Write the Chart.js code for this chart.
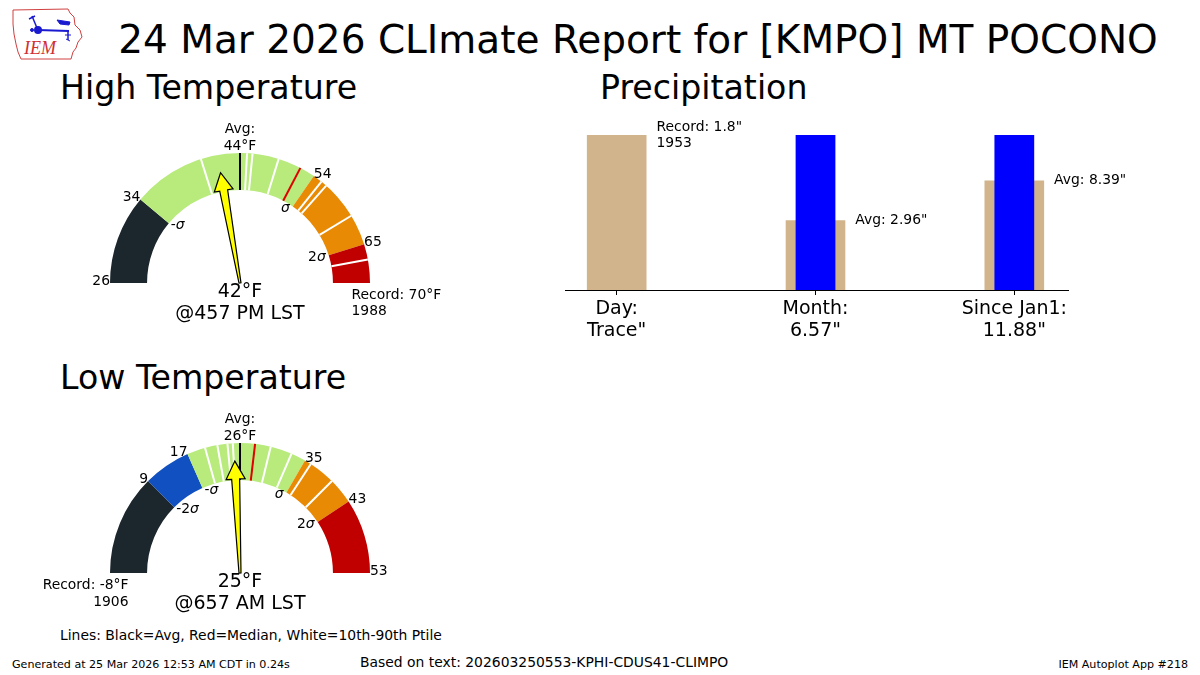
<!DOCTYPE html>
<html>
<head>
<meta charset="utf-8">
<script src="https://cdn.jsdelivr.net/npm/chart.js@4.4.1/dist/chart.umd.min.js"></script>
<style>
  body { margin: 0; background: #fff; font-family: "DejaVu Sans", sans-serif; }
  #page { position: relative; width: 1200px; height: 675px; overflow: hidden; background: #fff; }
  .t { position: absolute; white-space: nowrap; color: #000; line-height: 1; transform: translateY(-50%); }
  canvas { position: absolute; }
</style>
</head>
<body>
<div id="page">
  <svg style="position:absolute;left:8px;top:4px" width="78" height="58" viewBox="0 0 78 58">
    <path d="M5,6 L60,5 L62,9 L66,13 L67,21 L72,26 L74,33 L70,38 L68,44 L65,48 L63,55 L13,55 L10,48 L8,40 L6,30 L5,20 Z" fill="none" stroke="#d04040" stroke-width="1"/>
    <g stroke="#1a1ad0" stroke-width="2" fill="#1a1ad0">
      <line x1="30" y1="26" x2="61" y2="27"/>
      <circle cx="30" cy="26" r="3"/>
      <line x1="24" y1="12" x2="29" y2="24" stroke-width="1.5"/>
      <line x1="21" y1="15" x2="27" y2="12" stroke-width="1.5"/>
      <path d="M49,16 L62,18 L61,21 L52,20 Z" stroke-width="1"/>
      <line x1="60" y1="27" x2="60" y2="36" stroke-width="1.5"/>
      <line x1="57" y1="31" x2="63" y2="31" stroke-width="1"/>
      <line x1="58" y1="35" x2="62" y2="37" stroke-width="1"/>
      <circle cx="24" cy="26" r="1.5" stroke-width="1"/>
    </g>
    <text x="16" y="50" fill="#d03030" font-family="Liberation Serif" font-style="italic" font-size="18">IEM</text>
  </svg>

  <div class="t" style="left:638px;top:39px;font-size:39px;transform:translate(-50%,-50%)">24 Mar 2026 CLImate Report for [KMPO] MT POCONO</div>
  <div class="t" style="left:60px;top:88px;font-size:33.2px">High Temperature</div>
  <div class="t" style="left:600px;top:88px;font-size:33.2px">Precipitation</div>
  <div class="t" style="left:60px;top:378px;font-size:33.2px">Low Temperature</div>
  <div class="t" style="left:60px;top:636px;font-size:13.9px">Lines: Black=Avg, Red=Median, White=10th-90th Ptile</div>
  <div class="t" style="left:12px;top:665px;font-size:11.1px">Generated at 25 Mar 2026 12:53 AM CDT in 0.24s</div>
  <div class="t" style="left:360px;top:663px;font-size:13.9px">Based on text: 202603250553-KPHI-CDUS41-CLIMPO</div>
  <div class="t" style="right:12px;top:665px;font-size:11.1px">IEM Autoplot App #218</div>

  <canvas id="highGauge" width="440" height="240" style="left:20px;top:110px"></canvas>
  <canvas id="lowGauge" width="440" height="240" style="left:20px;top:400px"></canvas>
  <canvas id="precip" width="600" height="250" style="left:540px;top:110px"></canvas>
</div>

<script>
// colores das faixas
const DARK = '#1c262d', BLUE = '#1050c0', GREEN = '#b8ea7c', ORANGE = '#e88a04', RED = '#c00000';

// temperatura maxima
const highEdges = [26, 34, 54, 65, 70];
const highColors = [DARK, GREEN, ORANGE, RED];
const highSigma = ['', '-σ', 'σ', '2σ', ''];
const highAvg = 44;
const highMedian = 52;
const highPtiles = [40.5, 44.9, 45.6, 49, 55.2, 56, 61, 67];
const highObs = 42;
const highTime = '@457 PM LST';
const highRecord = 70, highRecordYear = 1988;

// temperatura minima
const lowEdges = [-8, 9, 17, 35, 43, 53];
const lowColors = [DARK, BLUE, GREEN, ORANGE, RED];
const lowSigma = ['', '-2σ', '-σ', 'σ', '2σ', ''];
const lowAvg = 26;
const lowMedian = 28;
const lowPtiles = [20.1, 22.2, 23.9, 24.8, 30.1, 33, 35.9, 39.5];
const lowObs = 25;
const lowTime = '@657 AM LST';
const lowRecord = -8, lowRecordYear = 1906;

// precipitacao
const precipLabels = ['Day:', 'Month:', 'Since Jan1:'];
const precipObsText = ['Trace"', '6.57"', '11.88"'];
const precipObs = [0.0001, 6.57, 11.88];
const precipRef = [1.8, 2.96, 8.39];
const precipRefText = [['Record: 1.8"', '1953'], ['Avg: 2.96"'], ['Avg: 8.39"']];

const FONT = '"DejaVu Sans", sans-serif';
const SMALL = 13.9;

function sigmaText(ctx, s, x, y, align) {
  const parts = s.split(/(σ)/).filter(Boolean);
  const fonts = parts.map(p => p === 'σ' ? 'italic ' + SMALL + 'px ' + FONT : SMALL + 'px ' + FONT);
  let w = 0;
  const ws = parts.map((p, i) => { ctx.font = fonts[i]; const m = ctx.measureText(p).width; w += m; return m; });
  let sx = align === 'right' ? x - w : x;
  ctx.textAlign = 'left';
  ctx.textBaseline = 'middle';
  parts.forEach((p, i) => { ctx.font = fonts[i]; ctx.fillText(p, sx, y); sx += ws[i]; });
}

function makeGauge(id, edges, colors, sigma, avg, median, ptiles, obs, time, record, recordYear) {
  // cortar as faixas na media: metade esquerda min..media, direita media..max
  const lo0 = edges[0], hi0 = edges[edges.length - 1];
  const cuts = edges.concat([avg]).sort((a, b) => a - b);
  const pieces = [];
  for (let i = 0; i < cuts.length - 1; i++) {
    const lo = cuts[i], hi = cuts[i + 1];
    if (hi <= lo) continue;
    let k = 0;
    while (k < edges.length - 2 && lo >= edges[k + 1]) k++;
    const half = hi <= avg ? avg - lo0 : hi0 - avg;
    pieces.push({ lo, hi, color: colors[k], w: (hi - lo) / half });
  }

  const overlay = {
    id: 'gauge_' + id,
    afterDatasetsDraw(chart) {
      const ctx = chart.ctx;
      const arcs = chart.getDatasetMeta(0).data;
      const cx = arcs[0].x, cy = arcs[0].y;
      const r0 = arcs[0].innerRadius, r1 = arcs[0].outerRadius;
      const angleOf = t => {
        for (let i = 0; i < pieces.length; i++) {
          const p = pieces[i];
          if (t >= p.lo && t <= p.hi) {
            return arcs[i].startAngle + (t - p.lo) / (p.hi - p.lo) * (arcs[i].endAngle - arcs[i].startAngle);
          }
        }
        return t < lo0 ? arcs[0].startAngle : arcs[arcs.length - 1].endAngle;
      };
      const radial = (t, color) => {
        const a = angleOf(t);
        ctx.beginPath();
        ctx.moveTo(cx + r0 * Math.cos(a), cy + r0 * Math.sin(a));
        ctx.lineTo(cx + r1 * Math.cos(a), cy + r1 * Math.sin(a));
        ctx.strokeStyle = color;
        ctx.lineWidth = 2;
        ctx.stroke();
      };
      ctx.save();
      ptiles.forEach(t => radial(t, '#ffffff'));
      radial(median, '#e00000');
      radial(avg, '#000000');

      // rotulos das bordas
      ctx.fillStyle = '#000';
      edges.forEach((t, i) => {
        const a = angleOf(t);
        const c = Math.cos(a), s = Math.sin(a);
        if (t !== record) {
          ctx.font = SMALL + 'px ' + FONT;
          ctx.textAlign = c < 0 ? 'right' : 'left';
          ctx.textBaseline = 'alphabetic';
          ctx.fillText(String(t), cx + r1 * c, cy + r1 * s + 1.5);
        }
        if (sigma[i]) {
          const px = cx + r0 * c, py = cy + r0 * s;
          if (c < 0) sigmaText(ctx, sigma[i], px + 2, py + 2, 'left');
          else sigmaText(ctx, sigma[i], px - 3, py + 2, 'right');
        }
      });

      // recorde
      ctx.font = SMALL + 'px ' + FONT;
      ctx.textBaseline = 'middle';
      const rm = (r0 + r1) / 2;
      if (record === hi0) {
        ctx.textAlign = 'left';
        ctx.fillText('Record: ' + record + '°F', cx + rm, cy + 12);
        ctx.fillText(String(recordYear), cx + rm, cy + 28);
      } else {
        ctx.textAlign = 'right';
        ctx.fillText('Record: ' + record + '°F', cx - rm, cy + 12);
        ctx.fillText(String(recordYear), cx - rm, cy + 29);
      }

      // media no topo
      ctx.textAlign = 'center';
      ctx.fillText('Avg:', cx, cy - r1 - 24);
      ctx.fillText(avg + '°F', cx, cy - r1 - 7);

      // ponteiro
      const a = angleOf(obs);
      const L = 112, hl = 18, sw = 4, hw = 9.5;
      const ux = Math.cos(a), uy = Math.sin(a), vx = -uy, vy = ux;
      const P = (d, w) => [cx + ux * d + vx * w, cy + uy * d + vy * w];
      const pts = [P(0, -1), P(L - hl, -sw), P(L - hl, -hw), P(L, 0), P(L - hl, hw), P(L - hl, sw), P(0, 1)];
      ctx.beginPath();
      pts.forEach((p, i) => i ? ctx.lineTo(p[0], p[1]) : ctx.moveTo(p[0], p[1]));
      ctx.closePath();
      ctx.fillStyle = '#ffff00';
      ctx.fill();
      ctx.strokeStyle = '#000';
      ctx.lineWidth = 1.2;
      ctx.lineJoin = 'miter';
      ctx.stroke();

      // valor observado
      ctx.fillStyle = '#000';
      ctx.font = '19px ' + FONT;
      ctx.textAlign = 'center';
      ctx.textBaseline = 'middle';
      ctx.fillText(obs + '°F', cx, cy + 9);
      ctx.fillText(time, cx, cy + 31);
      ctx.restore();
    }
  };

  return new Chart(document.getElementById(id), {
    type: 'doughnut',
    data: {
      labels: pieces.map(p => p.lo + '-' + p.hi),
      datasets: [{
        data: pieces.map(p => p.w),
        backgroundColor: pieces.map(p => p.color),
        borderWidth: 0
      }]
    },
    options: {
      responsive: false,
      animation: false,
      events: [],
      rotation: -90,
      circumference: 180,
      radius: 130,
      cutout: '71.5%',
      layout: { padding: { bottom: 24 } },
      plugins: { legend: { display: false }, tooltip: { enabled: false } }
    },
    plugins: [overlay]
  });
}

makeGauge('highGauge', highEdges, highColors, highSigma, highAvg, highMedian, highPtiles, highObs, highTime, highRecord, highRecordYear);
makeGauge('lowGauge', lowEdges, lowColors, lowSigma, lowAvg, lowMedian, lowPtiles, lowObs, lowTime, lowRecord, lowRecordYear);

// barras normalizadas pelo maior valor de cada categoria
const precipMax = precipObs.map((v, i) => Math.max(v, precipRef[i]));

const precipNotes = {
  id: 'precipNotes',
  afterDatasetsDraw(chart) {
    const ctx = chart.ctx, xs = chart.scales.x, ys = chart.scales.y;
    ctx.save();
    ctx.fillStyle = '#000';
    ctx.font = SMALL + 'px ' + FONT;
    ctx.textAlign = 'left';
    ctx.textBaseline = 'middle';
    precipRefText.forEach((lines, i) => {
      const x = xs.getPixelForValue(i + 0.2);
      const y = ys.getPixelForValue(precipRef[i] / precipMax[i]);
      lines.forEach((s, j) => ctx.fillText(s, x, y - (lines.length - 1) * 8 + j * 16));
    });
    ctx.restore();
  }
};

new Chart(document.getElementById('precip'), {
  type: 'bar',
  data: {
    datasets: [
      {
        data: precipObs.map((v, i) => ({ x: i, y: v / precipMax[i] })),
        backgroundColor: '#0000ff',
        barPercentage: 0.2,
        categoryPercentage: 1,
        grouped: false,
        order: 0
      },
      {
        data: precipRef.map((v, i) => ({ x: i, y: v / precipMax[i] })),
        backgroundColor: '#d2b48c',
        barPercentage: 0.3,
        categoryPercentage: 1,
        grouped: false,
        order: 1
      }
    ]
  },
  options: {
    responsive: false,
    animation: false,
    events: [],
    layout: { padding: { left: 25, right: 72, top: 25, bottom: 10 } },
    plugins: { legend: { display: false }, tooltip: { enabled: false } },
    scales: {
      x: {
        type: 'linear',
        min: -0.26,
        max: 2.27,
        offset: false,
        afterBuildTicks: s => { s.ticks = precipLabels.map((_, i) => ({ value: i })); },
        afterFit: s => { s.height = 60; },
        ticks: {
          callback: (v, i) => [precipLabels[i], precipObsText[i]],
          color: '#000',
          font: { family: 'DejaVu Sans', size: 19, lineHeight: 1.16 },
          padding: 3,
          maxRotation: 0,
          autoSkip: false
        },
        grid: { offset: false, drawOnChartArea: false, drawTicks: true, tickLength: 5, color: '#000' },
        border: { display: true, color: '#000', width: 1 }
      },
      y: { display: false, min: 0, max: 1 }
    }
  },
  plugins: [precipNotes]
});
</script>
</body>
</html>
